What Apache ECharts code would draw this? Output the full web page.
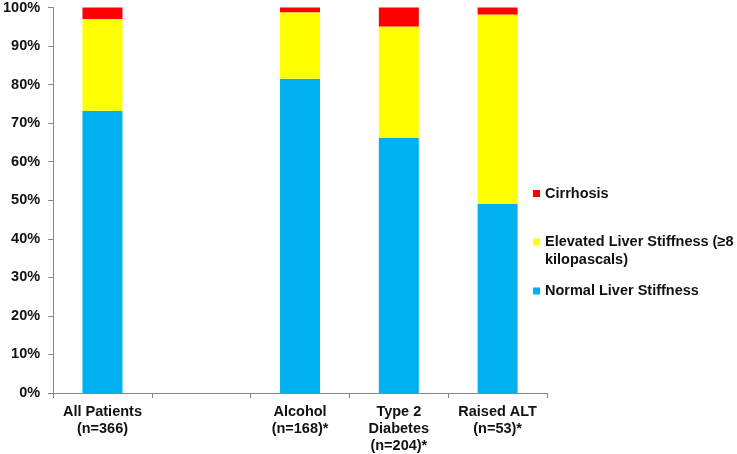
<!DOCTYPE html>
<html>
<head>
<meta charset="utf-8">
<script src="https://cdn.jsdelivr.net/npm/echarts@6/dist/echarts.min.js"></script>
<style>
html,body{margin:0;padding:0;background:#fff;}
#chart{width:737px;height:454px;}
</style>
</head>
<body>
<div id="chart"></div>
<script>
const categories = ['All Patients\n(n=366)', '', 'Alcohol\n(n=168)*', 'Type 2\nDiabetes\n(n=204)*', 'Raised ALT\n(n=53)*'];
const normalStiffness = [73.2, '-', 81.5, 66.2, 49.1];
const elevatedStiffness = [23.8, '-', 17.3, 28.9, 49.1];
const cirrhosis = [3.0, '-', 1.2, 4.9, 1.8];
const yTicks = [0, 10, 20, 30, 40, 50, 60, 70, 80, 90, 100];

const FONT = 'Liberation Sans, Arial, sans-serif';
const nameNormal = 'Normal Liver Stiffness';
const nameElevated = 'Elevated Liver Stiffness (≥8 kilopascals)';
const nameCirr = 'Cirrhosis';

const legendText = {fontFamily: FONT, fontWeight: 'bold', fontSize: 14.5, color: '#111', lineHeight: 18};
function mkLegend(name, top, icon, h) {
  return {
    data: [name], left: 533, top: top, orient: 'vertical', padding: 0,
    itemWidth: 7, itemHeight: h, icon: icon, selectedMode: false,
    textStyle: legendText,
    formatter: function (n) { return n === nameElevated ? 'Elevated Liver Stiffness (≥8\nkilopascals)' : n; }
  };
}

const chart = echarts.init(document.getElementById('chart'));
chart.setOption({
  animation: false,
  backgroundColor: '#fff',
  grid: {left: 50, right: 190, top: 6.7, bottom: 61, containLabel: false},
  legend: [
    mkLegend(nameCirr, 184.5, 'rect', 7),
    mkLegend(nameElevated, 233, 'path://M0,0h7v7h-7z M0,25h0.01v0.01h-0.01z', 25),
    mkLegend(nameNormal, 282, 'rect', 7)
  ],
  xAxis: {
    type: 'category', data: categories,
    axisLine: {lineStyle: {color: '#868686', width: 1}},
    axisTick: {show: true, length: 5, lineStyle: {color: '#868686'}},
    axisLabel: {fontFamily: FONT, fontWeight: 'bold', fontSize: 14.5, color: '#111', lineHeight: 17, margin: 10, interval: 0}
  },
  yAxis: {
    type: 'value', min: yTicks[0], max: yTicks[yTicks.length - 1], interval: 10,
    axisLine: {show: true, lineStyle: {color: '#868686', width: 1}},
    axisTick: {show: true, length: 5, lineStyle: {color: '#868686'}},
    splitLine: {show: false},
    axisLabel: {fontFamily: FONT, fontWeight: 'bold', fontSize: 14.5, color: '#111', margin: 13, formatter: '{value}%'}
  },
  series: [
    {name: nameNormal, type: 'bar', stack: 's', data: normalStiffness, barWidth: 40, itemStyle: {color: '#00B0F0'}},
    {name: nameElevated, type: 'bar', stack: 's', data: elevatedStiffness, barWidth: 40, itemStyle: {color: '#FFFF00'}},
    {name: nameCirr, type: 'bar', stack: 's', data: cirrhosis, barWidth: 40, itemStyle: {color: '#FF0000'}}
  ]
});
</script>
</body>
</html>
